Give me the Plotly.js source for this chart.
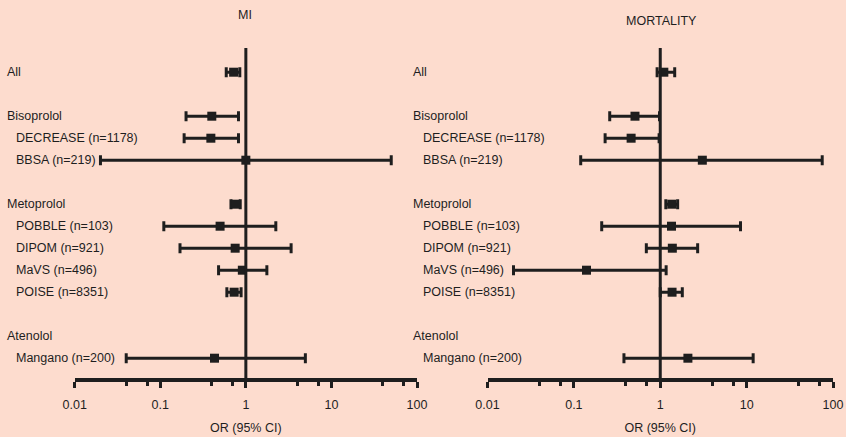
<!DOCTYPE html>
<html>
<head>
<meta charset="utf-8">
<script src="https://cdn.plot.ly/plotly-3.0.1.min.js"></script>
<style>
html,body{margin:0;padding:0;background:#FDDCCE;}
#chart{width:846px;height:437px;}
</style>
</head>
<body>
<div id="chart"></div>
<script>
// Row order (top to bottom); gap rows are empty spacers
const rows = ['All','gap1','Bisoprolol','DECREASE (n=1178)','BBSA (n=219)','gap2','Metoprolol','POBBLE (n=103)','DIPOM (n=921)','MaVS (n=496)','POISE (n=8351)','gap3','Atenolol','Mangano (n=200)'];
const groupLabels = ['All','Bisoprolol','Metoprolol','Atenolol'];
const studyLabels = ['DECREASE (n=1178)','BBSA (n=219)','POBBLE (n=103)','DIPOM (n=921)','MaVS (n=496)','POISE (n=8351)','Mangano (n=200)'];

// Rows that carry an estimate
const estRows = ['All','Bisoprolol','DECREASE (n=1178)','BBSA (n=219)','Metoprolol','POBBLE (n=103)','DIPOM (n=921)','MaVS (n=496)','POISE (n=8351)','Mangano (n=200)'];

// MI odds ratios (95% CI)
const miOR   = [0.72, 0.40, 0.39, 1.00, 0.76, 0.50, 0.75, 0.91, 0.73, 0.43];
const miLow  = [0.59, 0.20, 0.19, 0.02, 0.67, 0.11, 0.17, 0.48, 0.60, 0.04];
const miHigh = [0.85, 0.82, 0.82, 50,   0.86, 2.24, 3.38, 1.76, 0.88, 4.96];

// Mortality odds ratios (95% CI)
const moOR   = [1.10, 0.51, 0.46, 3.07, 1.36, 1.35, 1.38, 0.14, 1.37, 2.09];
const moLow  = [0.92, 0.26, 0.23, 0.12, 1.16, 0.21, 0.69, 0.02, 1.00, 0.38];
const moHigh = [1.47, 0.98, 0.97, 75,   1.59, 8.5,  2.71, 1.17, 1.80, 11.9];

const tickVals = [0.01, 0.1, 1, 10, 100];
const tickText = ['0.01', '0.1', '1', '10', '100'];
const minorVals = [0.04, 0.07, 0.4, 0.7, 4, 7, 40, 70];
const nullOR = 1;
const panelTitles = ['MI', 'MORTALITY'];
const axisTitle = 'OR (95% CI)';

const ink = '#1e1e1e';
const font = {family: 'Liberation Sans, Arial, sans-serif', size: 12.5, color: ink};

function trace(or, lo, hi, xa, ya) {
  return {
    type: 'scatter', mode: 'markers', x: or, y: estRows, xaxis: xa, yaxis: ya,
    marker: {symbol: 'square', size: 9, color: ink},
    error_x: {type: 'data', symmetric: false,
      array: or.map((v, i) => hi[i] - v),
      arrayminus: or.map((v, i) => v - lo[i]),
      color: ink, thickness: 3, width: 5},
    hoverinfo: 'x+y', showlegend: false, cliponaxis: false
  };
}

function xax(domain, anchor) {
  return {
    type: 'log', range: [-2, 2], domain: domain, anchor: anchor,
    showgrid: false, zeroline: false,
    showline: true, linecolor: ink, linewidth: 4,
    tickmode: 'array', tickvals: tickVals, ticktext: tickText,
    ticks: 'outside', ticklen: 6, tickwidth: 3, tickcolor: ink,
    minor: {tickmode: 'array', tickvals: minorVals, ticks: 'outside', ticklen: 4, tickwidth: 3, tickcolor: ink},
    tickfont: font, ticklabelstandoff: 6,
    title: {text: axisTitle, font: font, standoff: 13},
    fixedrange: true
  };
}
function yax(domain, anchor) {
  return {
    type: 'category', categoryorder: 'array', categoryarray: rows,
    range: [13.9, -1.1], domain: domain, anchor: anchor,
    showgrid: false, zeroline: false, showline: false, showticklabels: false, ticks: '',
    fixedrange: true
  };
}

const W = 846, H = 437;
const yDom = [1 - 378 / H, 1 - 48 / H];

const annotations = [];
function addLabels(yref, xg, xs) {
  groupLabels.forEach(l => annotations.push({text: l, xref: 'paper', x: xg / W, yref: yref, y: l,
    xanchor: 'left', yanchor: 'middle', showarrow: false, font: font}));
  studyLabels.forEach(l => annotations.push({text: l, xref: 'paper', x: xs / W, yref: yref, y: l,
    xanchor: 'left', yanchor: 'middle', showarrow: false, font: font}));
}
addLabels('y', 5, 14);
addLabels('y2', 411, 421);
annotations.push({text: panelTitles[0], xref: 'paper', x: 245 / W, yref: 'paper', y: 1 - 15 / H,
  xanchor: 'center', yanchor: 'middle', showarrow: false, font: font});
annotations.push({text: panelTitles[1], xref: 'paper', x: 661 / W, yref: 'paper', y: 1 - 21 / H,
  xanchor: 'center', yanchor: 'middle', showarrow: false, font: font});

const shapes = [
  {type: 'line', xref: 'x', yref: 'y domain', x0: nullOR, x1: nullOR, y0: 0, y1: 1, line: {color: ink, width: 3}},
  {type: 'line', xref: 'x2', yref: 'y2 domain', x0: nullOR, x1: nullOR, y0: 0, y1: 1, line: {color: ink, width: 3}}
];

const layout = {
  width: W, height: H,
  margin: {l: 0, r: 0, t: 0, b: 0},
  paper_bgcolor: '#FDDCCE', plot_bgcolor: 'rgba(0,0,0,0)',
  font: font,
  xaxis: xax([74.7 / W, 417 / W], 'y'),
  yaxis: yax(yDom, 'x'),
  xaxis2: xax([487.5 / W, 833 / W], 'y2'),
  yaxis2: yax(yDom, 'x2'),
  annotations: annotations,
  shapes: shapes,
  showlegend: false
};

Plotly.newPlot('chart', [
  trace(miOR, miLow, miHigh, 'x', 'y'),
  trace(moOR, moLow, moHigh, 'x2', 'y2')
], layout, {displayModeBar: false, staticPlot: true});
</script>
</body>
</html>
